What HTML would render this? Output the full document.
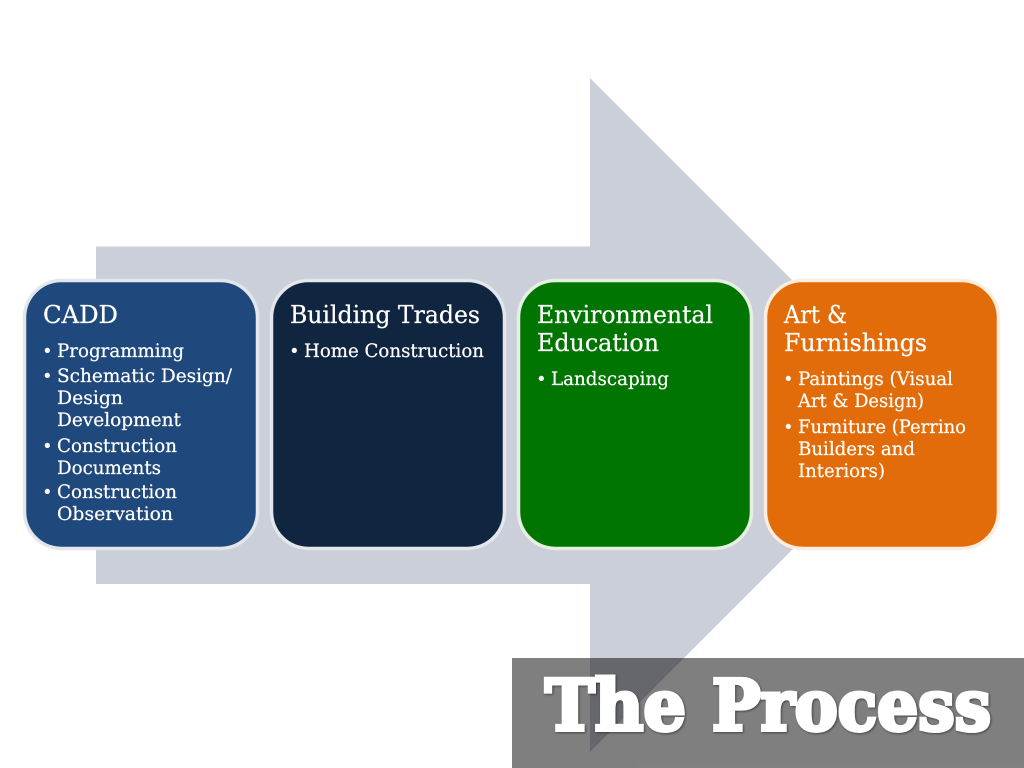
<!DOCTYPE html>
<html><head><meta charset="utf-8"><style>
html,body{margin:0;padding:0;background:#fff;width:1024px;height:768px;overflow:hidden}
svg{display:block}
text{font-family:"DejaVu Serif","Liberation Serif",serif;fill:#fff}
.t{font-size:24px;stroke:#fff;stroke-width:.25px}
.i{font-size:18.5px;stroke:#fff;stroke-width:.2px}
.b{font-size:19px;font-family:"Liberation Sans",sans-serif}
.h{font-size:70px;font-weight:bold;stroke:#fff;stroke-width:4px;stroke-linejoin:miter;paint-order:stroke}
</style></head><body>
<svg width="1024" height="768" viewBox="0 0 1024 768" xmlns="http://www.w3.org/2000/svg">
<polygon points="96,246.5 590,246.5 590,78 927,415 590,752 590,584 96,584" fill="#cbcfd9"/>
<g stroke-width="3.5">
<rect x="24.5" y="280.5" width="233" height="268" rx="37" fill="#1f497d" stroke="#e3e6ea"/>
<rect x="271.5" y="280.5" width="233" height="268" rx="37" fill="#10253f" stroke="#e3e6ea"/>
<rect x="518.5" y="280.5" width="233" height="268" rx="37" fill="#017501" stroke="#e6f0e2"/>
<rect x="765.5" y="280.5" width="233" height="268" rx="37" fill="#e36c0a" stroke="#fbeee0"/>
</g>
<text class="t" x="43" y="323" textLength="75" lengthAdjust="spacingAndGlyphs">CADD</text>
<text class="b" x="44" y="357">•</text>
<text class="i" x="57" y="357" textLength="127" lengthAdjust="spacingAndGlyphs">Programming</text>
<text class="b" x="44" y="382">•</text>
<text class="i" x="57" y="382" textLength="175" lengthAdjust="spacingAndGlyphs">Schematic Design/</text>
<text class="i" x="57" y="404" textLength="66" lengthAdjust="spacingAndGlyphs">Design</text>
<text class="i" x="57" y="426" textLength="124" lengthAdjust="spacingAndGlyphs">Development</text>
<text class="b" x="44" y="452">•</text>
<text class="i" x="57" y="452" textLength="120" lengthAdjust="spacingAndGlyphs">Construction</text>
<text class="i" x="57" y="474" textLength="104" lengthAdjust="spacingAndGlyphs">Documents</text>
<text class="b" x="44" y="498">•</text>
<text class="i" x="57" y="498" textLength="120" lengthAdjust="spacingAndGlyphs">Construction</text>
<text class="i" x="57" y="520" textLength="116" lengthAdjust="spacingAndGlyphs">Observation</text>

<text class="t" x="290" y="323" textLength="190" lengthAdjust="spacingAndGlyphs">Building Trades</text>
<text class="b" x="291" y="357">•</text>
<text class="i" x="304" y="357" textLength="180" lengthAdjust="spacingAndGlyphs">Home Construction</text>

<text class="t" x="537" y="323" textLength="176" lengthAdjust="spacingAndGlyphs">Environmental</text>
<text class="t" x="537" y="351" textLength="122" lengthAdjust="spacingAndGlyphs">Education</text>
<text class="b" x="538" y="385">•</text>
<text class="i" x="551" y="385" textLength="118" lengthAdjust="spacingAndGlyphs">Landscaping</text>

<text class="t" x="784" y="323" textLength="63" lengthAdjust="spacingAndGlyphs">Art &amp;</text>
<text class="t" x="784" y="351" textLength="143" lengthAdjust="spacingAndGlyphs">Furnishings</text>
<text class="b" x="785" y="385">•</text>
<text class="i" x="798" y="385" textLength="155" lengthAdjust="spacingAndGlyphs">Paintings (Visual</text>
<text class="i" x="798" y="407" textLength="126" lengthAdjust="spacingAndGlyphs">Art &amp; Design)</text>
<text class="b" x="785" y="433">•</text>
<text class="i" x="798" y="433" textLength="168" lengthAdjust="spacingAndGlyphs">Furniture (Perrino</text>
<text class="i" x="798" y="455" textLength="117" lengthAdjust="spacingAndGlyphs">Builders and</text>
<text class="i" x="798" y="477" textLength="87" lengthAdjust="spacingAndGlyphs">Interiors)</text>

<rect x="512" y="658" width="512" height="110" fill="#000" fill-opacity="0.5"/>
<g style="filter:drop-shadow(1px 1px 1px rgba(0,0,0,.45))">
<text class="h" x="545" y="730" textLength="141" lengthAdjust="spacingAndGlyphs">The</text>
<text class="h" x="712" y="730" textLength="279" lengthAdjust="spacingAndGlyphs">Process</text>
</g>
</svg>
</body></html>
